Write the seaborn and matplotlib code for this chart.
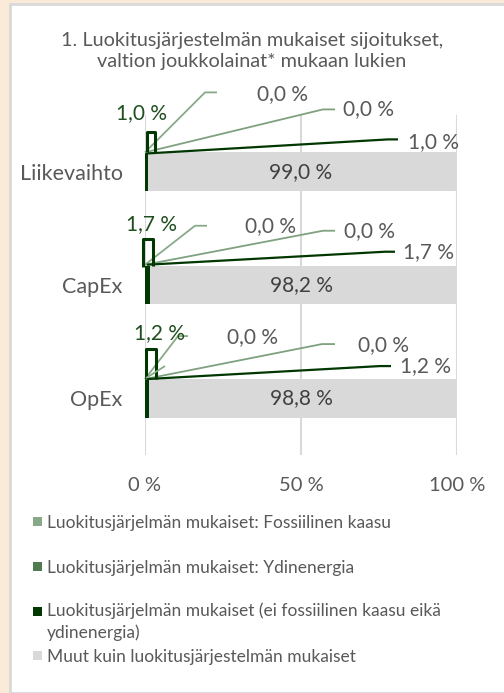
import matplotlib
matplotlib.use("Agg")
import matplotlib.pyplot as plt
import matplotlib.transforms as mtransforms
from matplotlib.patches import Rectangle
import numpy as np
import pandas as pd
import seaborn as sns

# ---- data ----
categories = ["Liikevaihto", "CapEx", "OpEx"]
fossil_gas = [0.0, 0.0, 0.0]
nuclear = [0.0, 0.0, 0.0]
aligned = [1.0, 1.7, 1.2]
other = [99.0, 98.2, 98.8]
series_names = [
    "Luokitusjärjelmän mukaiset: Fossiilinen kaasu",
    "Luokitusjärjelmän mukaiset: Ydinenergia",
    "Luokitusjärjelmän mukaiset (ei fossiilinen kaasu eikä\nydinenergia)",
    "Muut kuin luokitusjärjestelmän mukaiset",
]
x_ticks = [0, 50, 100]
x_ticklabels = ["0 %", "50 %", "100 %"]
title = "1. Luokitusjärjestelmän mukaiset sijoitukset,\nvaltion joukkolainat* mukaan lukien"

# ---- style ----
c_gas = "#88A988"
c_nuc = "#4E7B4F"
c_ali = "#013801"
c_oth = "#D9D9D9"
c_txt = "#595959"
c_lab = "#1F4F1F"
W, H = 504, 693

sns.set_theme(style="white")
plt.rcParams["font.family"] = ["Lato", "DejaVu Sans"]


def fmt(v):
    return f"{v:.1f} %".replace(".", ",")


df = pd.DataFrame({"cat": categories, "gas": fossil_gas, "nuc": nuclear,
                   "ali": aligned, "oth": other})
df["c_nuc"] = df["gas"] + df["nuc"]
df["c_ali"] = df["c_nuc"] + df["ali"]
df["c_oth"] = df["c_ali"] + df["oth"]

fig = plt.figure(figsize=(W / 100, H / 100), dpi=100)
fig.patch.set_facecolor("#FBEAD8")
fig.add_artist(Rectangle((10 / W, 0), 1, 1 - 4 / H, transform=fig.transFigure,
                         facecolor="white", edgecolor="#D9D9D9", linewidth=2, zorder=-5))

ax = fig.add_axes([145 / W, 1 - 455 / H, 312 / W, 340 / H])
ax.set_facecolor("none")
bw = 0.34
for col, colr in [("c_oth", c_oth), ("c_ali", c_ali), ("c_nuc", c_nuc), ("gas", c_gas)]:
    sns.barplot(data=df, x=col, y="cat", color=colr, width=bw, saturation=1,
                linewidth=0, ax=ax, zorder=2)

ax.set_xlim(0, 100)
ax.set_ylim(2.5, -0.5)
ax.set_xticks(x_ticks)
ax.set_xticklabels(x_ticklabels, fontsize=14.5, color=c_txt)
ax.tick_params(axis="x", length=0, pad=16)
ax.tick_params(axis="y", length=0, pad=16, labelsize=15.5, labelcolor=c_txt)
ax.set_xlabel("")
ax.set_ylabel("")
ax.grid(axis="x", color="#D9D9D9", linewidth=1.5, zorder=0)
ax.set_axisbelow(True)
for s in ax.spines.values():
    s.set_visible(False)

fig.text(252 / W, 1 - 51 / H, title, ha="center", va="center", fontsize=14.3,
         color=c_txt, linespacing=1.3)

# gray value labels inside bars
for i, v in enumerate(other):
    ax.text(50, i, fmt(v), ha="center", va="center", fontsize=15, color="#404040", zorder=5)

# ---- callouts (offsets in pixels from bar top-left, y downwards) ----
gas_lead = [[(0, 0), (60, -60), (72, -60)],
            [(0, -1), (50, -40), (62, -40)],
            [(0, 0), (33, -43), (43, -43)]]
gas_lab = [(112, -58), (100, -40), (82, -42)]
nuc_lead = [[(0, 0), (178, -43), (190, -43)],
            [(0, -1), (178, -35), (190, -35)],
            [(0, 0), (177, -35), (190, -35)]]
nuc_lab = [(198, -43), (199, -35), (213, -34)]
ali_lead = [[(3, 1), (243, -13), (253, -13)],
            [(2, -1), (240, -14), (250, -14)],
            [(2, 0), (235, -13), (246, -13)]]
ali_lab = [(263, -10), (258, -14), (255, -13)]
box = [[(2, 0), (2, -20), (10, -20), (10, 0)],
       [(-2, 1), (-2, -27), (8, -27), (8, 0)],
       [(1, 0), (1, -30), (11, -30), (11, 0)]]
box_lab = [(-4, -39), (6, -42), (14, -46)]

ident = mtransforms.IdentityTransform()
fig.canvas.draw()


def pline(anchor, pts, color, lw=1.3):
    xs = [anchor[0] + p[0] for p in pts]
    ys = [anchor[1] - p[1] for p in pts]
    ax.plot(xs, ys, color=color, lw=lw, transform=ident, clip_on=False, zorder=4,
            solid_capstyle="butt")


def ptext(anchor, off, s, color, ha="left"):
    ax.text(anchor[0] + off[0], anchor[1] - off[1], s, color=color, fontsize=15,
            ha=ha, va="center", transform=ident, zorder=5)


for i in range(len(categories)):
    anc = ax.transData.transform((0, i - bw / 2))
    pline(anc, gas_lead[i], c_gas)
    ptext(anc, gas_lab[i], fmt(fossil_gas[i]), c_txt)
    pline(anc, nuc_lead[i], "#7FA17F")
    ptext(anc, nuc_lab[i], fmt(nuclear[i]), c_txt)
    pline(anc, ali_lead[i], c_ali, lw=1.6)
    ptext(anc, ali_lab[i], fmt(aligned[i]), c_txt)
    pline(anc, box[i], c_ali, lw=2.2)
    ptext(anc, box_lab[i], fmt(aligned[i]), c_lab, ha="center")
    if i == 2:
        pline(anc, [(1, -1), (20, -13)], c_gas)

# ---- legend ----
leg_y = [522, 567, 612, 656]
for name, colr, y in zip(series_names, [c_gas, c_nuc, c_ali, c_oth], leg_y):
    fig.add_artist(Rectangle((33 / W, 1 - (y + 4) / H), 9 / W, 9 / H,
                             transform=fig.transFigure, facecolor=colr, edgecolor="none"))
    if "\n" in name:
        fig.text(47 / W, 1 - (y - 10) / H, name, ha="left", va="top",
                 fontsize=12.5, color=c_txt, linespacing=1.45)
    else:
        fig.text(47 / W, 1 - (y + 1) / H, name, ha="left", va="center",
                 fontsize=12.5, color=c_txt)

fig.savefig("out.png", dpi=100, facecolor=fig.get_facecolor())
